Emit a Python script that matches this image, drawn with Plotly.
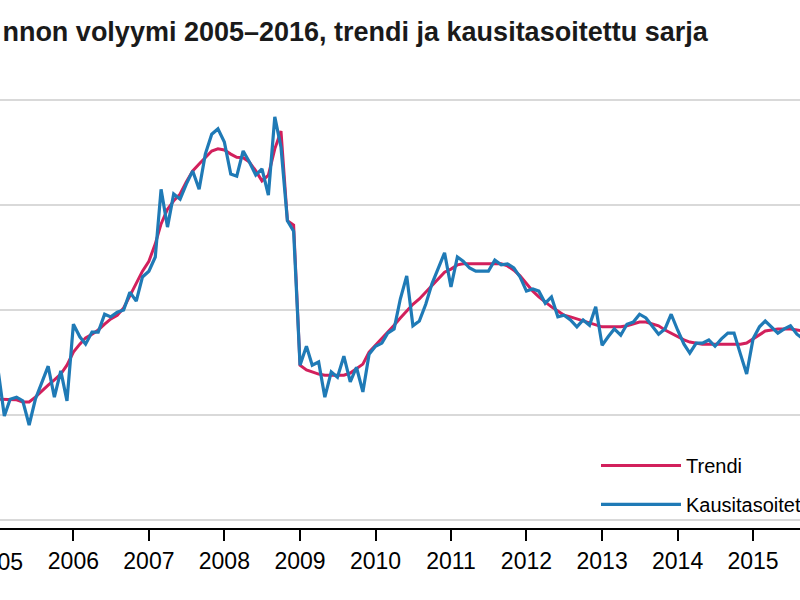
import pandas as pd
import plotly.graph_objects as go

# kuukausittaiset havainnot 2005/01 alkaen
months = pd.date_range("2005-01-01", periods=129, freq="MS")

trendi = [
    83.0, 83.0, 83.0, 82.9, 82.5, 82.5, 83.4, 84.6, 85.7, 86.7, 87.8, 89.5,
    92.0, 93.5, 94.7, 95.4, 96.2, 97.3, 98.3, 99.0, 100.4, 102.7, 105.0, 107.4,
    109.3, 112.6, 116.4, 119.2, 120.8, 122.1, 124.4, 126.5, 127.8, 129.1, 130.3, 130.7,
    130.5, 129.7, 129.1, 129.0, 128.2, 126.5, 124.6, 125.7, 130.7, 134.1, 117.0, 116.2,
    89.5, 88.6, 88.2, 87.8, 87.6, 87.6, 87.6, 87.6, 88.0, 88.8, 89.7, 92.0,
    93.3, 94.5, 95.8, 97.1, 98.5, 99.8, 101.1, 102.1, 103.4, 104.8, 106.1, 107.2,
    107.8, 108.6, 108.8, 108.8, 108.8, 108.8, 108.8, 108.8, 108.8, 108.4, 107.6, 106.5,
    105.0, 103.6, 102.5, 101.5, 100.6, 99.8, 99.0, 98.7, 98.3, 97.9, 97.5, 97.1,
    96.8, 96.8, 96.8, 96.8, 97.0, 97.3, 97.7, 97.7, 97.3, 97.0, 96.2, 95.6,
    95.0, 94.3, 93.9, 93.7, 93.5, 93.5, 93.5, 93.5, 93.5, 93.5, 93.5, 93.7,
    94.5, 95.4, 96.0, 96.2, 96.4, 96.4, 96.4, 96.2, 96.0,
]

kausitasoitettu = [
    88.8, 79.8, 83.0, 83.4, 82.7, 78.1, 83.0, 86.3, 89.3, 83.4, 88.4, 82.7,
    97.3, 94.9, 93.5, 95.8, 95.8, 99.2, 98.7, 99.6, 100.0, 103.4, 101.7, 106.3,
    107.4, 110.1, 123.0, 115.8, 122.1, 121.1, 124.0, 126.5, 123.0, 129.7, 133.5, 134.5,
    132.0, 125.9, 125.5, 130.3, 128.2, 125.7, 126.9, 121.9, 136.8, 131.0, 117.0, 115.0,
    89.5, 93.1, 89.5, 90.1, 83.4, 88.2, 87.2, 91.2, 86.3, 89.1, 84.4, 91.6,
    93.1, 93.7, 95.6, 96.4, 102.1, 106.5, 97.0, 97.9, 101.1, 105.0, 108.2, 110.9,
    104.4, 110.1, 109.3, 108.0, 107.4, 107.4, 107.4, 109.5, 108.6, 108.8, 108.0, 106.3,
    103.6, 104.0, 103.6, 101.3, 102.5, 98.7, 99.0, 98.1, 96.8, 98.1, 97.1, 100.6,
    93.3, 95.0, 96.4, 95.2, 97.3, 97.7, 99.2, 98.5, 96.8, 95.4, 96.4, 99.2,
    96.2, 93.5, 91.8, 93.7, 93.7, 94.3, 93.1, 94.5, 95.6, 95.6, 91.6, 87.8,
    94.5, 96.8, 97.9, 96.8, 95.6, 96.4, 97.0, 95.4, 94.5,
]

vuodet = list(range(2006, 2016))
title_text = "nnon volyymi 2005–2016, trendi ja kausitasoitettu sarja"

fig = go.Figure()
fig.add_trace(go.Scatter(x=months, y=trendi, mode="lines", name="Trendi",
                         line=dict(color="#d2205c", width=3), legendgroup="a"))
fig.add_trace(go.Scatter(x=months, y=kausitasoitettu, mode="lines", name="Kausitasoitettu",
                         line=dict(color="#1f7ab6", width=3.2), legendgroup="b"))

fig.update_xaxes(
    range=["2005-01-11", "2015-08-16"], automargin=False,
    tickvals=[f"{v}-01-01" for v in vuodet], ticktext=[str(v) for v in vuodet],
    showgrid=False, showline=True, linecolor="black", linewidth=2,
    ticks="outside", ticklen=11, tickwidth=2, tickcolor="black",
    tickfont=dict(family="Liberation Sans, Arial", size=23, color="black"),
)
fig.update_yaxes(
    range=[58.48, 140.77], tickvals=[60, 80, 100, 120, 140], showticklabels=False,
    showgrid=True, gridcolor="#d9d9d9", gridwidth=2, zeroline=False, automargin=False,
)

# vuoden 2005 nimiö jää osittain kuvan ulkopuolelle
fig.add_annotation(text="2005", xref="paper", yref="paper", x=-0.003, y=0,
                   yshift=-34, xanchor="center", yanchor="middle", showarrow=False,
                   font=dict(family="Liberation Sans, Arial", size=23, color="black"))

fig.update_layout(
    width=800, height=600,
    margin=dict(l=0, r=0, t=96, b=72, autoexpand=False),
    plot_bgcolor="white", paper_bgcolor="white",
    title=dict(text=f"<b>{title_text}</b>", x=0.003, xref="container", xanchor="left",
               y=0.947, yanchor="middle",
               font=dict(family="Liberation Sans, Arial", size=27, color="#1a1a1a")),
    legend=dict(x=0.745, y=0.19, xanchor="left", yanchor="top",
                traceorder="grouped", tracegroupgap=10, itemwidth=80,
                font=dict(family="Liberation Sans, Arial", size=20, color="black"),
                bgcolor="rgba(0,0,0,0)"),
    showlegend=True,
)

fig.write_html("out.html", config={"displayModeBar": False},
               post_script="document.body.style.margin='0';")
